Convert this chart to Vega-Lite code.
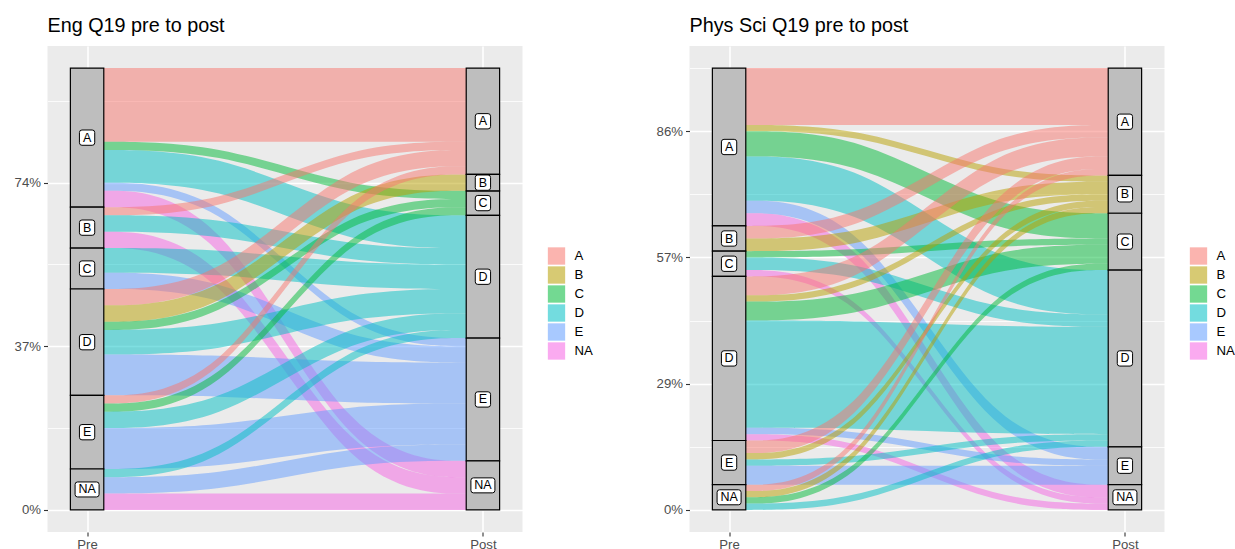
{
  "$schema": "https://vega.github.io/schema/vega-lite/v6.json",
  "padding": {"left": 13.5, "top": 16, "right": 0, "bottom": 0},
  "background": "white",
  "bounds": "flush",
  "spacing": 167,
  "config": {
    "font": "Liberation Sans",
    "view": {"fill": "#EBEBEB", "stroke": null},
    "axis": {
      "labelFont": "Liberation Sans",
      "labelFontSize": 13.2,
      "labelColor": "#4D4D4D",
      "tickColor": "#333333",
      "tickSize": 4,
      "tickWidth": 1.1,
      "domain": false,
      "gridColor": "white",
      "title": null
    },
    "title": {"font": "Liberation Sans", "fontSize": 19.8, "fontWeight": "normal", "color": "black", "anchor": "start", "frame": "group", "baseline": "alphabetic", "offset": 10}
  },
  "datasets": {
    "eng": [
      {"pre": "A", "post": "A", "n": 11.25},
      {"pre": "A", "post": "C", "n": 1.25},
      {"pre": "A", "post": "D", "n": 5},
      {"pre": "A", "post": "E", "n": 1.25},
      {"pre": "A", "post": "NA", "n": 2.5},
      {"pre": "B", "post": "A", "n": 1.25},
      {"pre": "B", "post": "D", "n": 2.5},
      {"pre": "B", "post": "NA", "n": 2.5},
      {"pre": "C", "post": "D", "n": 3.75},
      {"pre": "C", "post": "E", "n": 2.5},
      {"pre": "D", "post": "A", "n": 2.5},
      {"pre": "D", "post": "B", "n": 2.5},
      {"pre": "D", "post": "C", "n": 1.25},
      {"pre": "D", "post": "D", "n": 3.75},
      {"pre": "D", "post": "E", "n": 6.25},
      {"pre": "E", "post": "A", "n": 1.25},
      {"pre": "E", "post": "C", "n": 1.25},
      {"pre": "E", "post": "D", "n": 2.5},
      {"pre": "E", "post": "E", "n": 6.25},
      {"pre": "NA", "post": "D", "n": 1.25},
      {"pre": "NA", "post": "E", "n": 2.5},
      {"pre": "NA", "post": "NA", "n": 2.5}
    ],
    "phys": [
      {"pre": "A", "post": "A", "n": 4.5},
      {"pre": "A", "post": "B", "n": 0.5},
      {"pre": "A", "post": "C", "n": 2},
      {"pre": "A", "post": "D", "n": 3.5},
      {"pre": "A", "post": "E", "n": 1},
      {"pre": "A", "post": "NA", "n": 1},
      {"pre": "B", "post": "A", "n": 1},
      {"pre": "B", "post": "B", "n": 1},
      {"pre": "C", "post": "C", "n": 0.5},
      {"pre": "C", "post": "D", "n": 1},
      {"pre": "C", "post": "NA", "n": 0.5},
      {"pre": "D", "post": "A", "n": 1.5},
      {"pre": "D", "post": "B", "n": 0.5},
      {"pre": "D", "post": "C", "n": 1.5},
      {"pre": "D", "post": "D", "n": 8.5},
      {"pre": "D", "post": "E", "n": 0.5},
      {"pre": "D", "post": "NA", "n": 0.5},
      {"pre": "E", "post": "A", "n": 1},
      {"pre": "E", "post": "B", "n": 0.5},
      {"pre": "E", "post": "D", "n": 0.5},
      {"pre": "E", "post": "E", "n": 1.5},
      {"pre": "NA", "post": "A", "n": 0.5},
      {"pre": "NA", "post": "B", "n": 0.5},
      {"pre": "NA", "post": "C", "n": 0.5},
      {"pre": "NA", "post": "D", "n": 0.5}
    ]
  },
  "hconcat": [
    {
      "width": 475,
      "height": 486,
      "title": {"text": "Eng Q19 pre to post"},
      "data": {"name": "eng"},
      "layer": [
        {
          "transform": [
            {"fold": ["pre", "post"], "as": ["stage", "cat"]},
            {"impute": "n", "key": "stage", "keyvals": ["pre", "pre2", "post2", "post"], "groupby": ["pre", "post", "cat"], "method": "max"},
            {"filter": "(datum.stage === 'pre' || datum.stage === 'pre2') ? datum.cat === datum.pre : datum.cat === datum.post"},
            {"stack": "n", "groupby": ["stage"], "sort": [{"field": "cat", "order": "descending"}, {"field": "post", "order": "descending"}, {"field": "pre", "order": "descending"}], "as": ["y0", "y1"]}
          ],
          "mark": {"type": "area", "interpolate": "basis", "fillOpacity": 0.5, "strokeWidth": 0},
          "encoding": {
            "x": {"field": "stage", "type": "nominal", "sort": ["pre", "pre2", "post2", "post"],
              "scale": {"type": "point", "domain": ["pre", "pre2", "post2", "post"], "padding": 0.3},
              "axis": {"values": ["pre", "post"], "labelExpr": "datum.value === 'pre' ? 'Pre' : 'Post'", "labelAngle": 0, "grid": true, "gridWidth": 1.6, "labelPadding": 2, "labelFontSize": 13.2}},
            "y": {"field": "y0", "type": "quantitative", "stack": null,
              "scale": {"domain": [-3.375, 70.875], "nice": false, "zero": false},
              "axis": {"values": [0, 12.5, 25, 37.5, 50, 62.5], "grid": true, "labelFontSize": 13.2,
                "labelExpr": "datum.value % 25 !== 0 ? '' : format(datum.value / 67.5, '.0%')",
                "gridWidth": {"condition": {"test": "datum.value % 25 !== 0", "value": 0.8}, "value": 1.6},
                "tickOpacity": {"condition": {"test": "datum.value % 25 !== 0", "value": 0}, "value": 1},
                "labelPadding": 3}},
            "y2": {"field": "y1"},
            "fill": {"field": "post", "type": "nominal",
              "scale": {"domain": ["A", "B", "C", "D", "E", "NA"], "range": ["#F8766D", "#B79F00", "#00BA38", "#00BFC4", "#619CFF", "#F564E3"]},
              "legend": {"orient": "none", "legendX": 500, "legendY": 201, "title": null, "symbolType": "square", "symbolSize": 300, "symbolOpacity": 0.55, "symbolStrokeWidth": 0, "labelFontSize": 13.2, "labelColor": "black", "labelOffset": 9, "rowPadding": 1, "padding": 0}},
            "detail": {"field": "pre"}
          }
        },
        {
          "transform": [
            {"fold": ["pre", "post"], "as": ["stage", "cat"]},
            {"aggregate": [{"op": "sum", "field": "n", "as": "tot"}], "groupby": ["stage", "cat"]},
            {"stack": "tot", "groupby": ["stage"], "sort": [{"field": "cat", "order": "descending"}], "as": ["s0", "s1"]}
          ],
          "mark": {"type": "bar", "width": 33.4, "fill": "#BEBEBE", "stroke": "black", "strokeWidth": 1.2},
          "encoding": {
            "x": {"field": "stage", "type": "nominal", "scale": {"type": "point", "domain": ["pre", "pre2", "post2", "post"], "padding": 0.3}},
            "y": {"field": "s0", "type": "quantitative", "scale": {"domain": [-3.375, 70.875], "nice": false, "zero": false}},
            "y2": {"field": "s1"}
          }
        },
        {
          "transform": [
            {"fold": ["pre", "post"], "as": ["stage", "cat"]},
            {"aggregate": [{"op": "sum", "field": "n", "as": "tot"}], "groupby": ["stage", "cat"]},
            {"stack": "tot", "groupby": ["stage"], "sort": [{"field": "cat", "order": "descending"}], "as": ["s0", "s1"]},
            {"fold": ["s0", "s1"], "as": ["k", "v"]},
            {"aggregate": [{"op": "mean", "field": "v", "as": "mid"}], "groupby": ["stage", "cat"]}
          ],
          "layer": [
            {
              "mark": {"type": "point", "filled": true, "fill": "white", "stroke": "black", "strokeWidth": 1, "opacity": 1},
              "encoding": {
                "x": {"field": "stage", "type": "nominal", "scale": {"type": "point", "domain": ["pre", "pre2", "post2", "post"], "padding": 0.3}},
                "y": {"field": "mid", "type": "quantitative", "scale": {"domain": [-3.375, 70.875], "nice": false, "zero": false}},
                "shape": {"condition": {"test": "datum.cat === 'NA'", "value": "M-0.79,-0.625H0.79Q1,-0.625,1,-0.415V0.415Q1,0.625,0.79,0.625H-0.79Q-1,0.625,-1,0.415V-0.415Q-1,-0.625,-0.79,-0.625Z"}, "value": "M-0.67,-1H0.67Q1,-1,1,-0.67V0.67Q1,1,0.67,1H-0.67Q-1,1,-1,0.67V-0.67Q-1,-1,-0.67,-1Z"},
                "size": {"condition": {"test": "datum.cat === 'NA'", "value": 576}, "value": 234}
              }
            },
            {
              "mark": {"type": "text", "fontSize": 12.5, "font": "Liberation Sans", "fill": "black", "baseline": "middle", "align": "center"},
              "encoding": {
                "x": {"field": "stage", "type": "nominal", "scale": {"type": "point", "domain": ["pre", "pre2", "post2", "post"], "padding": 0.3}},
                "y": {"field": "mid", "type": "quantitative", "scale": {"domain": [-3.375, 70.875], "nice": false, "zero": false}},
                "text": {"field": "cat"}
              }
            }
          ]
        }
      ]
    },
    {
      "width": 475,
      "height": 486,
      "title": {"text": "Phys Sci Q19 pre to post"},
      "data": {"name": "phys"},
      "layer": [
        {
          "transform": [
            {"fold": ["pre", "post"], "as": ["stage", "cat"]},
            {"impute": "n", "key": "stage", "keyvals": ["pre", "pre2", "post2", "post"], "groupby": ["pre", "post", "cat"], "method": "max"},
            {"filter": "(datum.stage === 'pre' || datum.stage === 'pre2') ? datum.cat === datum.pre : datum.cat === datum.post"},
            {"stack": "n", "groupby": ["stage"], "sort": [{"field": "cat", "order": "descending"}, {"field": "post", "order": "descending"}, {"field": "pre", "order": "descending"}], "as": ["y0", "y1"]}
          ],
          "mark": {"type": "area", "interpolate": "basis", "fillOpacity": 0.5, "strokeWidth": 0},
          "encoding": {
            "x": {"field": "stage", "type": "nominal", "sort": ["pre", "pre2", "post2", "post"],
              "scale": {"type": "point", "domain": ["pre", "pre2", "post2", "post"], "padding": 0.3},
              "axis": {"values": ["pre", "post"], "labelExpr": "datum.value === 'pre' ? 'Pre' : 'Post'", "labelAngle": 0, "grid": true, "gridWidth": 1.6, "labelPadding": 2, "labelFontSize": 13.2}},
            "y": {"field": "y0", "type": "quantitative", "stack": null,
              "scale": {"domain": [-1.75, 36.75], "nice": false, "zero": false},
              "axis": {"values": [0, 5, 10, 15, 20, 25, 30, 35], "grid": true, "labelFontSize": 13.2,
                "labelExpr": "datum.value % 10 !== 0 ? '' : format(datum.value / 35, '.0%')",
                "gridWidth": {"condition": {"test": "datum.value % 10 !== 0", "value": 0.8}, "value": 1.6},
                "tickOpacity": {"condition": {"test": "datum.value % 10 !== 0", "value": 0}, "value": 1},
                "labelPadding": 3}},
            "y2": {"field": "y1"},
            "fill": {"field": "post", "type": "nominal",
              "scale": {"domain": ["A", "B", "C", "D", "E", "NA"], "range": ["#F8766D", "#B79F00", "#00BA38", "#00BFC4", "#619CFF", "#F564E3"]},
              "legend": {"orient": "none", "legendX": 500, "legendY": 201, "title": null, "symbolType": "square", "symbolSize": 300, "symbolOpacity": 0.55, "symbolStrokeWidth": 0, "labelFontSize": 13.2, "labelColor": "black", "labelOffset": 9, "rowPadding": 1, "padding": 0}},
            "detail": {"field": "pre"}
          }
        },
        {
          "transform": [
            {"fold": ["pre", "post"], "as": ["stage", "cat"]},
            {"aggregate": [{"op": "sum", "field": "n", "as": "tot"}], "groupby": ["stage", "cat"]},
            {"stack": "tot", "groupby": ["stage"], "sort": [{"field": "cat", "order": "descending"}], "as": ["s0", "s1"]}
          ],
          "mark": {"type": "bar", "width": 33.4, "fill": "#BEBEBE", "stroke": "black", "strokeWidth": 1.2},
          "encoding": {
            "x": {"field": "stage", "type": "nominal", "scale": {"type": "point", "domain": ["pre", "pre2", "post2", "post"], "padding": 0.3}},
            "y": {"field": "s0", "type": "quantitative", "scale": {"domain": [-1.75, 36.75], "nice": false, "zero": false}},
            "y2": {"field": "s1"}
          }
        },
        {
          "transform": [
            {"fold": ["pre", "post"], "as": ["stage", "cat"]},
            {"aggregate": [{"op": "sum", "field": "n", "as": "tot"}], "groupby": ["stage", "cat"]},
            {"stack": "tot", "groupby": ["stage"], "sort": [{"field": "cat", "order": "descending"}], "as": ["s0", "s1"]},
            {"fold": ["s0", "s1"], "as": ["k", "v"]},
            {"aggregate": [{"op": "mean", "field": "v", "as": "mid"}], "groupby": ["stage", "cat"]}
          ],
          "layer": [
            {
              "mark": {"type": "point", "filled": true, "fill": "white", "stroke": "black", "strokeWidth": 1, "opacity": 1},
              "encoding": {
                "x": {"field": "stage", "type": "nominal", "scale": {"type": "point", "domain": ["pre", "pre2", "post2", "post"], "padding": 0.3}},
                "y": {"field": "mid", "type": "quantitative", "scale": {"domain": [-1.75, 36.75], "nice": false, "zero": false}},
                "shape": {"condition": {"test": "datum.cat === 'NA'", "value": "M-0.79,-0.625H0.79Q1,-0.625,1,-0.415V0.415Q1,0.625,0.79,0.625H-0.79Q-1,0.625,-1,0.415V-0.415Q-1,-0.625,-0.79,-0.625Z"}, "value": "M-0.67,-1H0.67Q1,-1,1,-0.67V0.67Q1,1,0.67,1H-0.67Q-1,1,-1,0.67V-0.67Q-1,-1,-0.67,-1Z"},
                "size": {"condition": {"test": "datum.cat === 'NA'", "value": 576}, "value": 234}
              }
            },
            {
              "mark": {"type": "text", "fontSize": 12.5, "font": "Liberation Sans", "fill": "black", "baseline": "middle", "align": "center"},
              "encoding": {
                "x": {"field": "stage", "type": "nominal", "scale": {"type": "point", "domain": ["pre", "pre2", "post2", "post"], "padding": 0.3}},
                "y": {"field": "mid", "type": "quantitative", "scale": {"domain": [-1.75, 36.75], "nice": false, "zero": false}},
                "text": {"field": "cat"}
              }
            }
          ]
        }
      ]
    }
  ],
  "resolve": {"scale": {"x": "independent", "y": "independent", "fill": "independent"}, "legend": {"fill": "independent"}}
}
